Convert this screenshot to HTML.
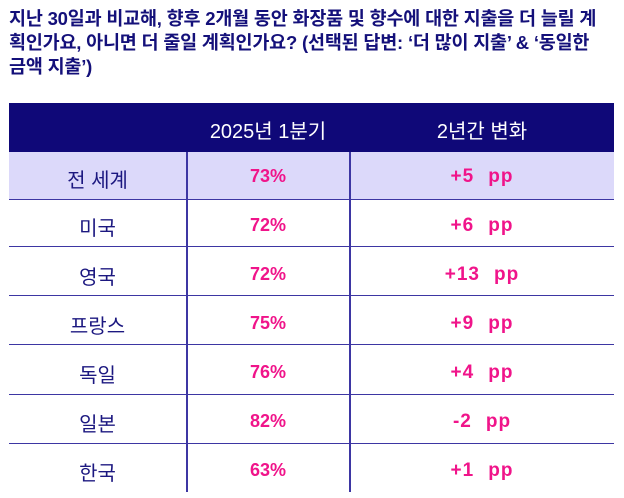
<!DOCTYPE html>
<html><head><meta charset="utf-8"><style>
body{margin:0;width:624px;height:498px;background:#fff;position:relative;overflow:hidden;font-family:"Liberation Sans","Noto Sans CJK KR",sans-serif}
.t{position:absolute;left:9px;top:7px;font-size:18.5px;line-height:24px;font-weight:bold;color:#14107a;letter-spacing:-0.2px;white-space:nowrap}
.hd{position:absolute;left:9px;top:103px;width:605px;height:49px;background:#0f0878}
.r{position:absolute;left:9px;width:605px;border-bottom:1.5px solid #3d36a3}
.c{position:absolute;text-align:center;font-size:20px}
.v{position:absolute;top:152px;width:1.5px;height:340px;background:#3d36a3}
.p{position:absolute;left:186px;width:164px;text-align:center;color:#f0148a;font-weight:bold;font-size:18px}
.q{position:absolute;left:350px;width:264px;text-align:center;color:#f0148a;font-weight:bold;font-size:19px;letter-spacing:1px}
.q span{display:inline-block;width:14px}
.n{position:absolute;left:9px;width:177px;text-align:center;color:#1c1880;font-size:20px}
</style></head><body>
<div class="t">지난 30일과 비교해, 향후 2개월 동안 화장품 및 향수에 대한 지출을 더 늘릴 계<br>획인가요, 아니면 더 줄일 계획인가요? (선택된 답변: ‘더 많이 지출’ &amp; ‘동일한<br>금액 지출’)</div>
<div class="hd"></div>
<div class="c" style="left:186px;width:164px;top:115px;color:#fff">2025년 1분기</div>
<div class="c" style="left:350px;width:264px;top:115px;color:#fff">2년간 변화</div>
<div class="r" style="top:152px;height:47px;background:#dcd9fa"></div>
<div class="r" style="top:200px;height:46px"></div>
<div class="r" style="top:248px;height:47px"></div>
<div class="r" style="top:297px;height:47px"></div>
<div class="r" style="top:346px;height:48px"></div>
<div class="r" style="top:396px;height:47px"></div>
<div class="v" style="left:186px"></div>
<div class="v" style="left:349px"></div>
<div class="n" style="top:164px">전 세계</div>
<div class="n" style="top:212px">미국</div>
<div class="n" style="top:261px">영국</div>
<div class="n" style="top:310px">프랑스</div>
<div class="n" style="top:359px">독일</div>
<div class="n" style="top:408px">일본</div>
<div class="n" style="top:457px">한국</div>
<div class="p" style="top:166px">73%</div>
<div class="p" style="top:215px">72%</div>
<div class="p" style="top:264px">72%</div>
<div class="p" style="top:313px">75%</div>
<div class="p" style="top:362px">76%</div>
<div class="p" style="top:411px">82%</div>
<div class="p" style="top:460px">63%</div>
<div class="q" style="top:166px">+5<span></span>pp</div>
<div class="q" style="top:215px">+6<span></span>pp</div>
<div class="q" style="top:264px">+13<span></span>pp</div>
<div class="q" style="top:313px">+9<span></span>pp</div>
<div class="q" style="top:362px">+4<span></span>pp</div>
<div class="q" style="top:411px">-2<span></span>pp</div>
<div class="q" style="top:460px">+1<span></span>pp</div>
</body></html>
